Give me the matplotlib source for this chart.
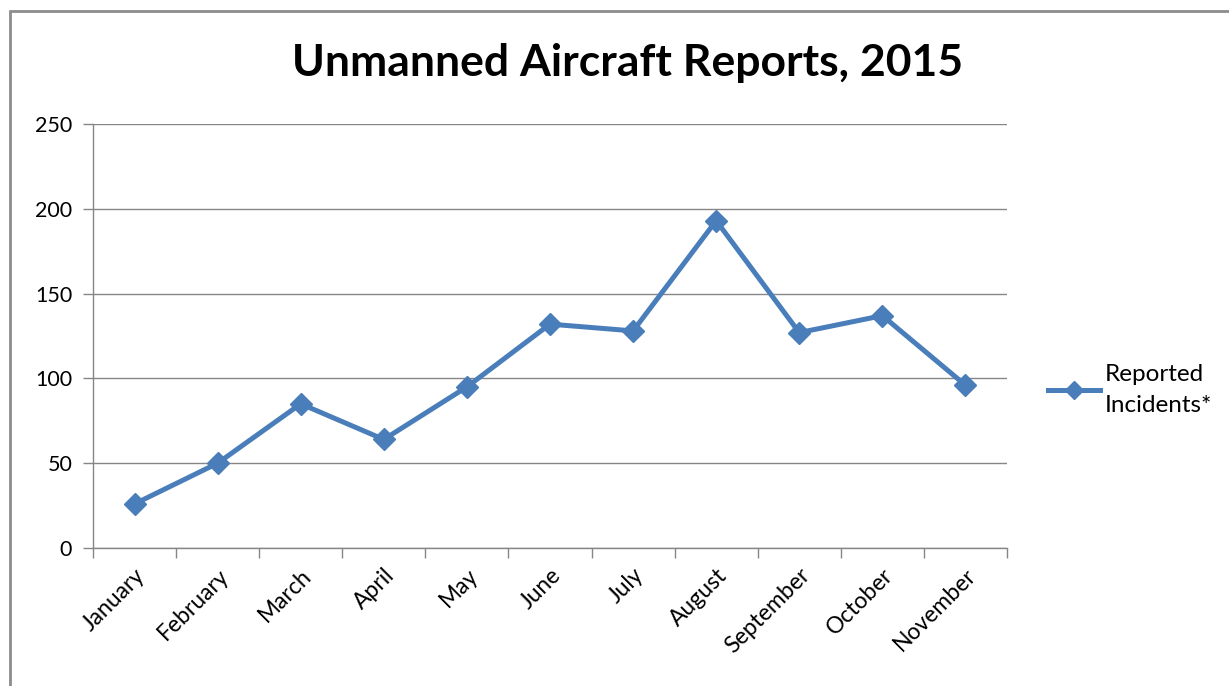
import matplotlib.pyplot as plt
from matplotlib.patches import Rectangle
from matplotlib.lines import Line2D
import numpy as np

plt.rcParams['font.family'] = ['Lato', 'DejaVu Sans']

months = ["January", "February", "March", "April", "May", "June", "July",
          "August", "September", "October", "November"]
incidents = [26, 50, 85, 64, 95, 132, 128, 193, 127, 137, 96]
yticks = [0, 50, 100, 150, 200, 250]

blue = "#4A7EBB"
grey = "#868686"

fig = plt.figure(figsize=(12.29, 6.86), dpi=100)
# outer chart frame (right and bottom edges cut off in the original)
fig.patches.append(Rectangle((10 / 1229, -0.05), 1.1, 1 - 11 / 686 + 0.05,
                             transform=fig.transFigure, fill=False,
                             edgecolor="#8c8c8c", linewidth=2))

ax = fig.add_axes([93 / 1229, 1 - 548 / 686, (1007 - 93) / 1229, (548 - 124) / 686])
x = np.arange(len(months))
ax.plot(x, incidents, color=blue, linewidth=3.6, marker="D", markersize=11,
        zorder=3, solid_joinstyle="round")

ax.set_xlim(-0.5, len(months) - 0.5)
ax.set_ylim(0, 250)
ax.set_yticks(yticks)
ax.set_yticklabels([str(v) for v in yticks], fontsize=15.5)
ax.yaxis.grid(True, color=grey, linewidth=1)
ax.set_axisbelow(True)

ax.set_xticks(x)
ax.set_xticklabels(months, rotation=45, ha="right", rotation_mode="anchor",
                   fontsize=16.5)
ax.tick_params(axis="x", which="major", length=0, pad=12)
ax.set_xticks(np.arange(-0.5, len(months)), minor=True)
ax.tick_params(axis="x", which="minor", length=7, color=grey, width=1)
ax.tick_params(axis="y", length=7, color=grey, width=1, pad=8)

for s in ["top", "right"]:
    ax.spines[s].set_visible(False)
for s in ["left", "bottom"]:
    ax.spines[s].set_color(grey)
    ax.spines[s].set_linewidth(1)

fig.text(628 / 1229, 1 - 63 / 686, "Unmanned Aircraft Reports, 2015",
         ha="center", va="center", fontsize=32, fontweight="bold")

handle = Line2D([], [], color=blue, linewidth=3.6, marker="D", markersize=9)
leg = fig.legend([handle], ["Reported\nIncidents*"], loc="center left",
                 bbox_to_anchor=(1048 / 1229, 1 - 390 / 686), frameon=False,
                 fontsize=17.5, handlelength=2.15, handletextpad=0.2,
                 borderpad=0, borderaxespad=0)
plt.setp(leg.get_texts(), linespacing=1.6)

fig.savefig("out.png", dpi=100)
